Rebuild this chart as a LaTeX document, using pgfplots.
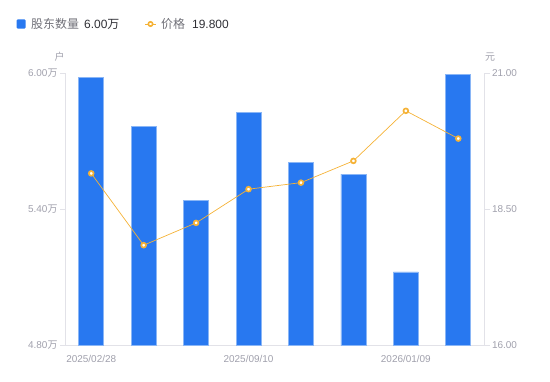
\documentclass[border=0pt]{standalone}
\usepackage{fontspec}
\setmainfont{Liberation Sans}
\newfontfamily\cjk{Noto Sans CJK SC}
\usepackage{pgfplots}
\pgfplotsset{compat=1.18}
\definecolor{barblue}{HTML}{2878F0}
\definecolor{baredge}{HTML}{8AB6F6}
\definecolor{lineor}{HTML}{F5B236}
\definecolor{axgray}{HTML}{E2E2E8}
\definecolor{tickgray}{HTML}{A0A0AC}
\definecolor{legtext}{HTML}{707078}
\definecolor{legval}{HTML}{303036}
\begin{document}
\begin{tikzpicture}[x=1bp,y=1bp]
\useasboundingbox (0,0) rectangle (550,381);
\begin{axis}[at={(65bp,35.7bp)}, anchor=south west, scale only axis,
  width=419.5bp, height=272bp,
  xmin=-0.5, xmax=7.5, ymin=4.8, ymax=6.0,
  axis y line*=left, axis x line*=bottom,
  axis line style={axgray, line width=0.8pt},
  tick align=outside, major tick length=5bp,
  y tick style={axgray, line width=0.8pt},
  x tick style={draw=none},
  ytick={4.8,5.4,6.0},
  yticklabels={4.80{\cjk 万},5.40{\cjk 万},6.00{\cjk 万}},
  xtick={0,3,6},
  xticklabels={2025/02/28,2025/09/10,2026/01/09},
  tick label style={font=\fontsize{10}{12}\selectfont, text=tickgray},
  yticklabel style={xshift=1bp},
  xticklabel style={yshift=-1bp},
  clip=false]
\addplot[ybar, bar width=25bp, fill=barblue, draw=baredge, line width=0.7pt]
  coordinates {(0,5.981) (1,5.767) (2,5.440) (3,5.829) (4,5.606) (5,5.555) (6,5.124) (7,5.996)};
\end{axis}
\begin{axis}[at={(65bp,35.7bp)}, anchor=south west, scale only axis,
  width=419.5bp, height=272bp,
  xmin=-0.5, xmax=7.5, ymin=16, ymax=21,
  axis y line*=right, axis x line=none,
  axis line style={axgray, line width=0.8pt},
  tick align=outside, major tick length=5bp,
  y tick style={axgray, line width=0.8pt},
  ytick={16,18.5,21},
  yticklabels={16.00,18.50,21.00},
  tick label style={font=\fontsize{10}{12}\selectfont, text=tickgray},
  yticklabel style={xshift=-1bp},
  clip=false]
\addplot[lineor, line width=0.7pt, mark=*, mark size=2.4bp,
  mark options={fill=white, draw=lineor, line width=1.7pt}]
  coordinates {(0,19.16) (1,17.84) (2,18.25) (3,18.87) (4,18.99) (5,19.39) (6,20.31) (7,19.80)};
\end{axis}
% unit labels
\node[font=\cjk\fontsize{10}{12}\selectfont, text=tickgray] at (59.5,324) {户};
\node[font=\cjk\fontsize{10}{12}\selectfont, text=tickgray] at (490,324) {元};
% legend
\fill[barblue, rounded corners=1bp] (16.5,352.5) rectangle (25.5,361.5);
\node[anchor=west, inner sep=0, font=\cjk\fontsize{12}{14}\selectfont, text=legtext] at (31,357) {股东数量};
\node[anchor=west, inner sep=0, font=\fontsize{12}{14}\selectfont, text=legval] at (84,357) {6.00{\cjk 万}};
\draw[lineor, line width=1pt] (145,357) -- (156,357);
\draw[lineor, fill=white, line width=1.6pt] (150.5,357) circle (2.2);
\node[anchor=west, inner sep=0, font=\cjk\fontsize{12}{14}\selectfont, text=legtext] at (161,357) {价格};
\node[anchor=west, inner sep=0, font=\fontsize{12}{14}\selectfont, text=legval] at (192,357) {19.800};
\end{tikzpicture}
\end{document}
